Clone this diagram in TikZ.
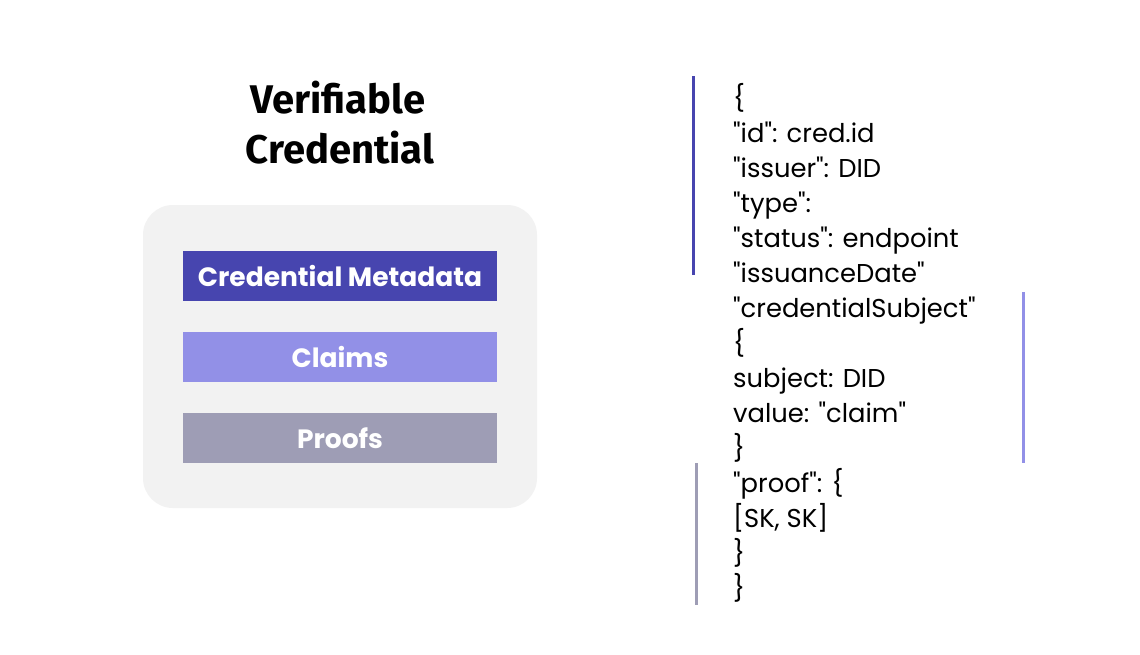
\documentclass[tikz,border=0pt]{standalone}
\usepackage{fontspec}
\setmainfont{Poppins}[Ligatures=TeXOff]
\newfontfamily\titlefont{Fira Sans}[UprightFont=* Bold]
\newfontfamily\boxfont{Poppins}[UprightFont=* Bold]
\definecolor{cmeta}{HTML}{4745AF}
\definecolor{cclaim}{HTML}{9290E7}
\definecolor{cproof}{HTML}{9E9DB5}
\definecolor{cpanel}{HTML}{F2F2F2}
\begin{document}
\begin{tikzpicture}[x=1pt,y=-1pt,
  layer/.style={minimum width=314pt,minimum height=50pt,inner sep=0pt,text=white,
    font=\boxfont\fontsize{26.5}{30}\selectfont},
  codeline/.style={anchor=base west,inner sep=0pt,font=\fontsize{25.8}{30}\selectfont},
  ttl/.style={anchor=base,inner sep=0pt,font=\titlefont\fontsize{40}{50}\selectfont},
  bar/.style={line width=3pt}]
\useasboundingbox (0,0) rectangle (1140,654);
\fill[white] (0,0) rectangle (1140,654);
% panel
\node[fill=cpanel,rounded corners=30pt,minimum width=394pt,minimum height=303pt,inner sep=0pt] (panel) at (340,356.5) {};
% title
\node[ttl] (title1) at (338,113) {Verifiable};
\node[ttl] (title2) at (340,163) {Credential};
% layers
\node[layer,fill=cmeta] (meta) at (340,276) {Credential Metadata};
\node[layer,fill=cclaim] (claims) at (340,357) {Claims};
\node[layer,fill=cproof] (proofs) at (340,438) {Proofs};
% code
\node[codeline] (c0) at (733,107) {\{};
\node[codeline] (c1) at (733,142) {"id": cred.id};
\node[codeline] (c2) at (733,177) {"issuer": DID};
\node[codeline] (c3) at (733,212) {"type":};
\node[codeline] (c4) at (733,247) {"status": endpoint};
\node[codeline] (c5) at (733,282) {"issuanceDate"};
\node[codeline] (c6) at (733,317) {"credentialSubject"};
\node[codeline] (c7) at (733,352) {\{};
\node[codeline] (c8) at (733,387) {subject: DID};
\node[codeline] (c9) at (733,422) {value: "claim"};
\node[codeline] (c10) at (733,457) {\}};
\node[codeline] (c11) at (733,492) {"proof": \{};
\node[codeline] (c12) at (733,527) {[SK, SK]};
\node[codeline] (c13) at (733,562) {\}};
\node[codeline] (c14) at (733,597) {\}};
% bars
\coordinate (b1s) at (693.5,76);
\coordinate (b1e) at (693.5,275);
\coordinate (b2s) at (1023,292);
\coordinate (b2e) at (1023,463);
\coordinate (b3s) at (696,463);
\coordinate (b3e) at (696,605);
\draw[bar,cmeta] (b1s) -- (b1e);
\draw[bar,cclaim] (b2s) -- (b2e);
\draw[bar,cproof] (b3s) -- (b3e);
\end{tikzpicture}
\end{document}
